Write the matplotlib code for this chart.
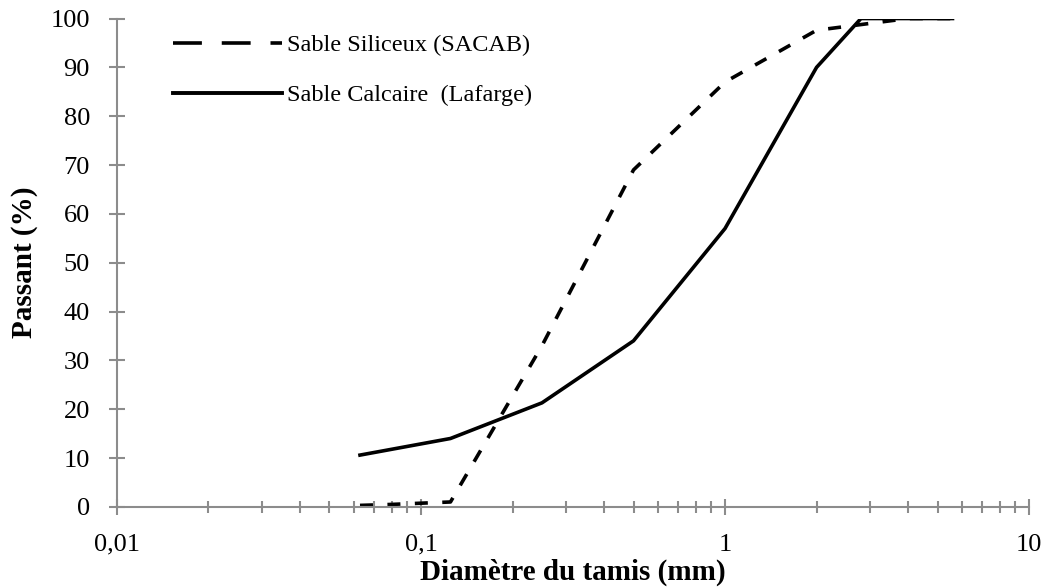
import numpy as np
import matplotlib
matplotlib.use("Agg")
import matplotlib.pyplot as plt
from matplotlib.ticker import FixedLocator, FuncFormatter, LogLocator, NullFormatter

# Sieve sizes (mm) and passing percentages
sieve_siliceux = [0.063, 0.08, 0.125, 0.25, 0.5, 1.0, 2.0, 4.0, 5.6]
pass_siliceux = [0.3, 0.5, 1.0, 33.0, 69.0, 87.0, 97.6, 100.0, 100.0]

sieve_calcaire = [0.063, 0.125, 0.25, 0.5, 1.0, 2.0, 2.8, 5.6]
pass_calcaire = [10.6, 14.0, 21.3, 34.0, 57.0, 90.0, 100.0, 100.0]

x_ticks = [0.01, 0.1, 1, 10]
y_ticks = list(range(0, 101, 10))

plt.rcParams['font.family'] = ['Liberation Serif', 'DejaVu Serif']

fig = plt.figure(figsize=(10.49, 5.88), dpi=100)
ax = fig.add_axes([0.1115, 0.138, 0.8695, 0.8305])

ax.plot(sieve_siliceux, pass_siliceux, color='black', lw=2.6,
        linestyle=(0, (3.6, 4)), label='Sable Siliceux (SACAB)')
ax.plot(sieve_calcaire, pass_calcaire, color='black', lw=2.6,
        label='Sable Calcaire  (Lafarge)')

ax.set_xscale('log')
ax.set_xlim(0.01, 10)
ax.set_ylim(0, 100)

ax.xaxis.set_major_locator(FixedLocator(x_ticks))
ax.xaxis.set_major_formatter(FuncFormatter(lambda v, p: ('%g' % v).replace('.', ',')))
ax.xaxis.set_minor_locator(LogLocator(base=10, subs=np.arange(2, 10)))
ax.xaxis.set_minor_formatter(NullFormatter())
ax.yaxis.set_major_locator(FixedLocator(y_ticks))

for s in ['top', 'right']:
    ax.spines[s].set_visible(False)
for s in ['left', 'bottom']:
    ax.spines[s].set_color('#8c8c8c')
    ax.spines[s].set_linewidth(1.5)

ax.tick_params(axis='both', which='major', direction='inout', length=11,
               width=1.5, color='#8c8c8c', labelsize=19)
ax.tick_params(axis='x', which='minor', direction='inout', length=9,
               width=1.5, color='#8c8c8c')
ax.tick_params(axis='x', pad=14)
ax.tick_params(axis='y', pad=14)

ax.set_xlabel('Diamètre du tamis (mm)', fontsize=21, fontweight='bold', labelpad=2)
ax.set_ylabel('Passant (%)', fontsize=21, fontweight='bold', labelpad=9)

leg = ax.legend(loc='upper left', bbox_to_anchor=(0.037, 1.013), frameon=False,
                fontsize=17.5, handlelength=4.5, handletextpad=0.2, labelspacing=1.15)
leg.get_lines()[0].set_linestyle((0, (8, 5.5)))
leg.get_lines()[0].set_linewidth(2.6)
leg.get_lines()[1].set_linewidth(2.8)

fig.savefig('out.png', dpi=100)
